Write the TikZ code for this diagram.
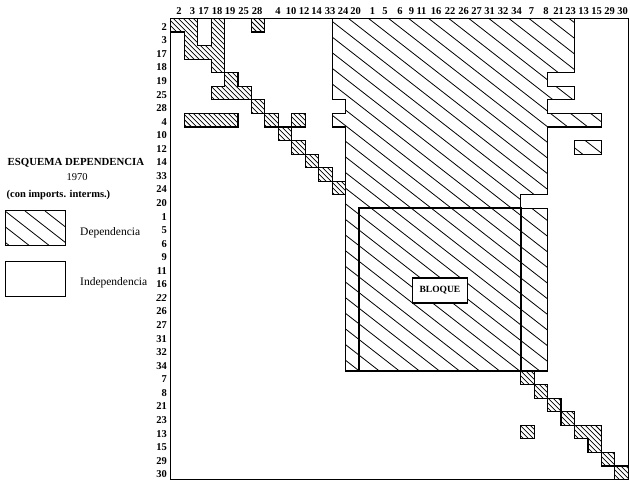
\documentclass[tikz,border=0pt]{standalone}
\usepackage{fontspec}
\setmainfont{Liberation Serif}
\begin{document}
\begin{tikzpicture}[x=1pt,y=-1pt,
  hatchline/.style={line width=0.8pt},
  densehatch/.style={line width=0.75pt},
  outline/.style={line width=1.15pt, line join=miter},
  frame/.style={line width=1pt},
  bloqueframe/.style={line width=1.8pt},
  collab/.style={font=\bfseries\fontsize{10.5}{12}\selectfont, inner sep=0pt, anchor=center},
  rowlab/.style={font=\bfseries\fontsize{10.5}{12}\selectfont, inner sep=0pt, anchor=east},
  legtitle/.style={font=\bfseries\fontsize{10.8}{13}\selectfont, inner sep=0pt},
  legtext/.style={font=\fontsize{11.5}{13}\selectfont, inner sep=0pt, anchor=west},
  legbox/.style={line width=1pt}]
\useasboundingbox (0,0) rectangle (630,481);
\fill[white] (0,0) rectangle (630,481);

% column labels
\foreach \lab/\xx [count=\i] in {2/179,3/192.5,17/203.5,18/217,19/230,25/243.5,28/257,4/278,10/291,12/304,14/316.5,33/330,24/343,20/355.5,1/372.5,5/385,6/400,9/411.5,11/421.5,16/436,22/450,26/463.5,27/476.5,31/489.5,32/503,34/516.5,7/531.5,8/546,21/558.5,23/570.5,13/583.5,15/596.5,29/609.5,30/622.5}
  \node[collab] (c\i) at (\xx,11.5) {\lab};

% row labels
\foreach \lab [count=\i from 0] in {2,3,17,18,19,25,28,4,10,12,14,33,24,20,1,5,6,9,11,16,\textit{22},26,27,31,32,34,7,8,21,23,13,15,29,30}{
  \pgfmathsetmacro\yy{26.8+13.56*\i}
  \node[rowlab] (r\i) at (167,\yy) {\lab};
}

% legend
\node[legtitle] (title) at (76,163) {ESQUEMA DEPENDENCIA};
\node[font=\fontsize{10.5}{12}\selectfont, inner sep=0pt] (year) at (77,177) {1970};
\node[legtitle, anchor=west, font=\bfseries\fontsize{10.5}{12}\selectfont] (sub) at (6.5,195) {(con imports. interms.)};
\begin{scope}
  \clip (5,211) rectangle (65,246);
  \foreach \c in {-55,-35,...,75} \draw[hatchline] (\c,211) -- ++(60,46.8);
\end{scope}
\draw[legbox] (5,211) rectangle (65,246);
\node[legtext] (dep) at (80,232.7) {Dependencia};
\draw[legbox] (5,262) rectangle (65,297);
\node[legtext] (indep) at (80,283) {Independencia};

% matrix
\begin{scope}[shift={(170.7,18.5)}, x=13.46pt, y=-13.56pt]
  % big region hatching
  \begin{scope}
    \clip (12,0) -- (30,0) -- (30,4) -- (28,4) -- (28,5) -- (30,5) -- (30,6) -- (28,6) -- (28,7) -- (32,7) -- (32,8) -- (28,8) -- (28,13) -- (26,13) -- (26,14) -- (28,14) -- (28,26) -- (13,26) -- (13,8) -- (12,8) -- (12,7) -- (13,7) -- (13,6) -- (12,6) -- cycle
      (30,9) rectangle (32,10);
    \foreach \c in {-30,-28.51,...,34} \draw[hatchline] (\c,0) -- ++(44.58,34.51);
  \end{scope}
  % dense hatching
  \begin{scope}
    \clip (0,0) rectangle (2,1) (1,1) rectangle (2,3) (2,2) rectangle (3,3)
      (3,0) rectangle (4,4) (6,0) rectangle (7,1) (4,4) rectangle (5,5)
      (3,5) rectangle (6,6) (6,6) rectangle (7,7) (1,7) rectangle (5,8)
      (7,7) rectangle (8,8) (9,7) rectangle (10,8) (8,8) rectangle (9,9)
      (9,9) rectangle (10,10) (10,10) rectangle (11,11) (11,11) rectangle (12,12)
      (12,12) rectangle (13,13)
      (26,26) rectangle (27,27) (27,27) rectangle (28,28) (28,28) rectangle (29,29)
      (29,29) rectangle (30,30) (30,30) rectangle (32,31) (31,31) rectangle (32,32)
      (32,32) rectangle (33,33) (33,33) rectangle (34,34) (26,30) rectangle (27,31);
    \foreach \c in {-37,-36.628,...,34} \draw[densehatch] (\c,0) -- ++(37.15,36.87);
  \end{scope}
  % outlines
  \draw[outline] (12,0) -- (30,0) -- (30,4) -- (28,4) -- (28,5) -- (30,5) -- (30,6) -- (28,6) -- (28,7) -- (32,7) -- (32,8) -- (28,8) -- (28,13) -- (26,13) -- (26,14) -- (28,14) -- (28,26) -- (13,26) -- (13,8) -- (12,8) -- (12,7) -- (13,7) -- (13,6) -- (12,6) -- cycle;
  \draw[outline] (30,9) rectangle (32,10);
  \draw[outline] (0,0) -- (2,0) -- (2,2) -- (3,2) -- (3,0) -- (4,0) -- (4,4) -- (3,4) -- (3,3) -- (1,3) -- (1,1) -- (0,1) -- cycle;
  \draw[outline] (6,0) rectangle (7,1);
  \draw[outline] (4,4) -- (5,4) -- (5,5) -- (6,5) -- (6,6) -- (3,6) -- (3,5) -- (4,5) -- cycle;
  \draw[outline] (6,6) rectangle (7,7) (1,7) rectangle (5,8) (7,7) rectangle (8,8)
    (9,7) rectangle (10,8) (8,8) rectangle (9,9) (9,9) rectangle (10,10)
    (10,10) rectangle (11,11) (11,11) rectangle (12,12) (12,12) rectangle (13,13);
  \draw[outline] (26,26) rectangle (27,27) (27,27) rectangle (28,28) (28,28) rectangle (29,29)
    (29,29) rectangle (30,30) (32,32) rectangle (33,33) (33,33) rectangle (34,34) (26,30) rectangle (27,31);
  \draw[outline] (30,30) -- (32,30) -- (32,32) -- (31,32) -- (31,31) -- (30,31) -- cycle;
  % bloque
  \draw[bloqueframe] (14,14) rectangle (26,26);
  \node[draw, fill=white, line width=1.6pt, minimum width=55pt, minimum height=25pt, inner sep=0pt,
        font=\bfseries\fontsize{9.5}{11}\selectfont] (bloque) at (20,20.06) {BLOQUE};
  % frame
  \draw[frame] (0,0) rectangle (34,34);
\end{scope}
\end{tikzpicture}
\end{document}
